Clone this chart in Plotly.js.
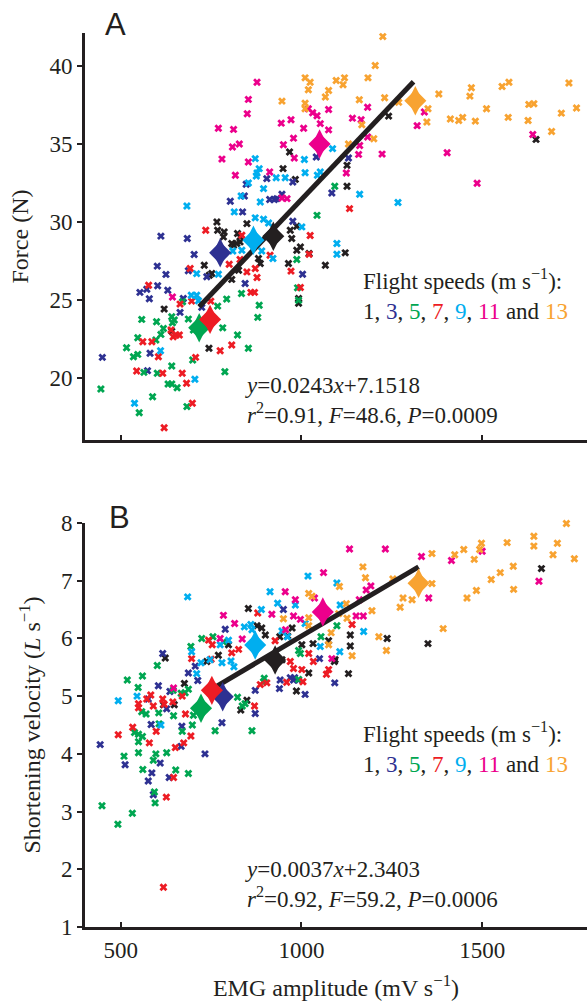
<!DOCTYPE html>
<html>
<head>
<meta charset="utf-8">
<script src="https://cdn.plot.ly/plotly-3.0.1.min.js"></script>
<style>html,body{margin:0;padding:0;background:#fff;}#chart{width:587px;height:1003px;}</style>
</head>
<body>
<div id="chart"></div>
<script>
// Flight speeds (m s-1) and their colours
const speeds = [1, 3, 5, 7, 9, 11, 13];
const speedColors = ['#231f20', '#2e3192', '#00a651', '#ed1c24', '#00aeef', '#ec008c', '#f8a331'];

// ---------- Panel A: Force vs EMG amplitude ----------
const forceEmg1 = [766,768,967,949,983,849,823,830,969,973,1241,1126,1126,987,997,987,1021,964,1066,1121,992,992,812,830,784,620,744,731,752,826,807,821,786,881,886,641,745,807,1649];
const force1    = [30.0,29.48,34.48,33.42,32.73,29.9,29.27,29.05,29.48,28.95,36.78,33.63,32.29,29.73,28.41,28.2,27.99,27.35,27.24,28.03,25.11,24.8,28.52,28.73,29.05,24.43,21.92,27.24,26.71,26.92,28.63,28.63,29.37,27.67,27.35,23.02,26.6,26.33,35.29];

const forceEmg3 = [611,684,803,837,847,904,912,925,932,946,976,976,1041,1084,1130,703,1003,601,625,553,572,579,630,673,664,687,738,724,449,581,574,844,602,842];
const force3    = [29.1,28.95,31.33,30.65,32.42,32.78,31.44,31.44,31.5,31.78,32.56,30.05,34.16,31.86,34.1,27.92,26.66,27.18,26.65,25.5,25.7,25.09,25.64,25.11,24.22,26.88,26.5,24.54,21.34,21.6,20.49,26.07,25.92,31.67];

const forceEmg5 = [445,516,535,547,547,558,564,551,588,599,601,597,611,618,641,648,643,641,631,641,656,683,699,687,671,768,782,793,788,823,834,853,879,883,987,989,992,1092,1043,701];
const force5    = [19.32,21.96,21.38,21.53,22.6,23.77,20.38,17.8,18.82,23.62,20.32,22.45,22.81,23.19,23.94,23.73,23.55,20.79,19.64,19.64,19.4,18.19,21.17,23.79,24.9,24.62,23.23,25.07,20.42,22.77,25.43,21.92,23.9,24.68,27.6,25.79,25.0,32.29,30.43,23.09];

const forceEmg7 = [735,835,1133,1024,1021,971,997,913,692,577,561,586,604,544,616,639,645,653,662,670,682,698,620,707,664,749,775,807,800,830,849,860,870,877,872,696];
const force7    = [29.48,29.16,30.86,29.14,27.94,26.86,25.81,27.88,27.03,25.96,22.34,22.34,21.38,20.47,20.32,23.09,22.66,22.77,22.77,20.32,19.68,18.4,16.84,21.34,24.75,24.94,21.76,22.13,27.3,27.6,26.81,25.5,25.5,26.45,27.03,24.94];

const forceEmg9 = [683,872,883,877,875,853,895,930,955,833,886,814,872,895,909,1008,1010,1044,1052,1086,1161,1001,1098,1098,1267,710,695,610,538,705,770,810,890,921,715,710,835];
const force9    = [31.03,34.06,33.42,33.14,32.95,32.5,32.14,32.84,32.84,31.67,31.28,30.65,30.27,30.18,29.94,34.0,33.16,33.0,33.2,34.7,31.78,29.69,28.63,27.94,31.25,25.32,25.32,21.76,18.4,19.94,26.66,28.15,28.15,27.67,24.96,26.7,28.2];

const forceEmg11 = [877,853,850,770,812,809,828,780,853,817,912,944,971,950,978,980,946,960,643,1019,1031,1043,1075,1006,1052,1075,1141,1165,1183,1161,1158,1183,1223,1124,1340,1320,1403,1486,1640];
const force11    = [38.95,37.85,36.93,36.0,35.93,34.8,35.0,34.03,33.84,33.0,33.2,36.33,36.55,34.95,35.37,34.1,31.54,31.5,25.2,37.25,37.0,36.8,37.2,36.0,36.3,35.9,36.65,36.55,37.35,34.9,34.33,35.44,34.35,33.14,37.04,36.17,34.44,32.48,35.6];

const forceEmg13 = [1225,1204,1010,1024,1019,1096,1119,1115,1075,1066,1184,1160,1230,1269,946,1010,1010,1167,1200,1130,1350,1347,1380,1412,1435,1446,1470,1466,1481,1512,1555,1574,1572,1629,1643,1627,1692,1719,1740,1761];
const force13    = [41.87,40.02,39.23,38.95,38.47,39.06,39.23,38.79,38.42,38.0,39.23,37.83,37.96,37.66,37.74,37.61,37.25,36.23,35.33,35.0,37.25,36.4,38.2,36.6,36.5,36.7,38.6,38.06,36.46,37.25,38.68,38.95,36.7,37.53,37.57,36.5,35.8,36.97,38.9,37.3];

// Means per speed (diamonds), order = speeds
const meanForceEmg = [922, 775, 717, 747, 867, 1050, 1315];
const meanForce    = [29.09, 28.03, 23.24, 23.77, 28.84, 35.0, 37.76];
const forceFit = {slope: 0.0243, intercept: 7.1518};
const forceFitRange = [717, 1310];

// ---------- Panel B: Shortening velocity vs EMG amplitude ----------
const velEmg1 = [1664,1350,1237,1135,1135,1130,1091,1032,974,1001,986,1020,853,1075,1093,962,890,900,946,877,798,770,738,676,618,940,849,832,623,648];
const vel1    = [7.21,5.91,6.0,6.06,5.87,5.39,5.6,5.91,6.18,5.89,5.09,5.4,6.52,5.96,5.63,6.04,6.18,6.06,5.63,6.22,5.89,5.71,5.6,5.22,4.85,6.03,4.93,4.76,5.66,4.85];

const velEmg3 = [1092,1010,950,978,992,1050,939,981,969,872,872,443,616,687,667,789,706,713,604,636,576,627,584,669,780,512,609,586,576,634,733,941,590];
const vel3    = [5.23,5.03,6.5,5.28,5.28,5.65,5.13,5.32,5.32,4.7,5.1,4.16,5.74,5.4,4.13,6.16,5.52,5.27,5.18,5.08,4.95,4.78,4.51,4.48,4.54,3.81,3.84,3.67,3.53,3.59,4.0,5.28,3.29];

const velEmg5 = [518,560,548,601,558,570,538,549,560,549,605,606,549,509,597,590,627,561,652,687,593,646,670,698,687,678,784,761,863,823,836,701,897,645,667,694,724,755,844,992,1054,1098,895,997,992,448,492,532,595];
const vel5    = [5.28,5.35,5.15,5.53,4.73,4.69,4.37,4.34,4.3,4.21,4.71,4.52,4.02,3.96,4.0,3.89,4.02,3.73,3.72,3.66,3.34,4.66,4.39,4.5,5.12,5.06,5.94,4.4,4.4,4.98,4.83,4.67,5.31,5.1,5.05,5.86,6.0,6.03,4.87,5.79,6.03,6.22,5.25,5.74,5.29,3.1,2.78,2.97,3.15];

const velEmg7 = [618,626,646,651,674,579,493,533,549,549,583,590,616,620,598,670,679,694,750,753,807,879,904,870,572,644,696,743,826,959,927,1075,1069,969,978,1001,1033,886,1140,1020,1004];
const vel7    = [1.69,3.25,3.59,4.11,4.19,4.19,4.33,4.46,4.87,4.8,5.02,4.83,4.95,4.86,4.39,5.0,4.69,4.31,5.64,5.89,5.75,6.44,5.23,4.83,4.95,4.9,5.65,5.97,5.81,5.24,5.96,5.46,5.38,5.6,5.48,5.46,5.6,5.2,6.24,5.74,5.25];

const velEmg9 = [493,685,696,722,710,747,775,798,842,860,863,889,913,934,983,805,813,611,545,780,1018,1098,1107,1172,1106,1052,946,961,1010];
const vel9    = [4.92,6.72,5.77,5.58,5.39,5.63,5.89,5.97,6.2,6.24,6.15,6.5,6.81,6.61,6.58,5.61,5.51,4.5,5.0,5.58,7.08,6.96,6.58,6.12,5.77,5.86,6.13,6.03,6.26];

const velEmg11 = [1133,1232,1332,1415,1500,1657,1352,1061,1192,1179,1160,1151,1171,955,983,978,956,1036,1084,918,997,784,815,836,775,646];
const vel11    = [7.55,7.55,7.42,7.35,7.51,6.99,6.7,7.14,6.91,6.84,6.67,6.39,6.39,6.81,6.67,6.39,6.15,6.7,5.65,6.42,6.33,6.4,6.26,5.99,6.0,5.14];

const velEmg13 = [1733,1643,1643,1708,1696,1755,1569,1586,1587,1498,1493,1478,1449,1424,1361,1550,1525,1484,1458,1361,1281,1306,1273,1253,1392,1214,1235,1170,1177,1105,1020,1029,1195,1126,1075,1140,1082,1020,1020,950,1124,1103];
const vel13    = [7.99,7.77,7.6,7.65,7.45,7.38,7.66,7.25,6.85,7.65,7.54,7.37,7.54,7.45,7.47,7.14,7.02,6.83,6.7,6.95,6.7,6.67,6.54,7.03,6.17,6.03,5.79,7.24,7.05,6.9,6.78,6.73,6.48,6.35,5.89,5.7,6.1,6.36,6.22,6.34,6.6,6.43];

const meanVelEmg = [927, 782, 722, 752, 872, 1059, 1324];
const meanVel    = [5.625, 4.99, 4.79, 5.1, 5.885, 6.46, 6.955];
const velFit = {slope: 0.0037, intercept: 2.3403};
const velFitRange = [752, 1324];

// Axis ticks
const xTicks = [500, 1000, 1500];
const forceTicks = [20, 25, 30, 35, 40];
const velTicks = [1, 2, 3, 4, 5, 6, 7, 8];

// ---------- build traces ----------
const forceX = [forceEmg1, forceEmg3, forceEmg5, forceEmg7, forceEmg9, forceEmg11, forceEmg13];
const forceY = [force1, force3, force5, force7, force9, force11, force13];
const velX = [velEmg1, velEmg3, velEmg5, velEmg7, velEmg9, velEmg11, velEmg13];
const velY = [vel1, vel3, vel5, vel7, vel9, vel11, vel13];

const ink = '#231f20';
const traces = [];
function addPanel(xs, ys, means_x, means_y, fit, range, xa, ya) {
  speeds.forEach((s, i) => {
    traces.push({
      type: 'scatter', mode: 'markers', x: xs[i], y: ys[i], xaxis: xa, yaxis: ya,
      marker: {symbol: 'x', size: 7, color: speedColors[i], line: {width: 0}},
      hoverinfo: 'skip', showlegend: false, cliponaxis: false
    });
  });
  traces.push({
    type: 'scatter', mode: 'lines', x: range,
    y: range.map(v => fit.slope * v + fit.intercept),
    xaxis: xa, yaxis: ya, line: {color: ink, width: 5}, hoverinfo: 'skip', showlegend: false
  });
  // mean diamonds: a diamond and a tall diamond overlaid give the taller rhombus of the original
  speeds.forEach((s, i) => {
    ['diamond', 'diamond-tall'].forEach((sym, k) => {
      traces.push({
        type: 'scatter', mode: 'markers', x: [means_x[i]], y: [means_y[i]], xaxis: xa, yaxis: ya,
        marker: {symbol: sym, size: k === 0 ? 17 : 21, color: speedColors[i], line: {width: 0}},
        hoverinfo: 'skip', showlegend: false
      });
    });
  });
}
addPanel(forceX, forceY, meanForceEmg, meanForce, forceFit, forceFitRange, 'x', 'y');
addPanel(velX, velY, meanVelEmg, meanVel, velFit, velFitRange, 'x2', 'y2');

const serif = 'Liberation Serif';
const sans = 'Liberation Sans';
const baseAxis = {
  showline: true, linecolor: ink, linewidth: 3, showgrid: false, zeroline: false,
  tickcolor: ink, tickwidth: 2, ticklen: 5, tickfont: {family: serif, size: 23, color: ink}
};
const speedLine = 'Flight speeds (m s<sup>−1</sup>):<br>' +
  speeds.map((s, i) => '<span style="color:' + speedColors[i] + '">' + s + '</span>')
    .slice(0, 6).join(', ') + ' and <span style="color:' + speedColors[6] + '">13</span>';

const layout = {
  width: 587, height: 1003,
  margin: {l: 85, r: 0, t: 33, b: 76},
  paper_bgcolor: '#fff', plot_bgcolor: '#fff',
  font: {family: serif, size: 23, color: ink},
  showlegend: false,
  xaxis: Object.assign({}, baseAxis, {anchor: 'y', domain: [0, 1], range: [401, 1790], tickvals: xTicks, ticks: 'inside', showticklabels: false}),
  yaxis: Object.assign({}, baseAxis, {anchor: 'x', domain: [0.5447, 1], range: [16.05, 42.1], tickvals: forceTicks, ticks: 'outside',
    title: {text: 'Force (N)', font: {family: serif, size: 24, color: ink}, standoff: 14}}),
  xaxis2: Object.assign({}, baseAxis, {anchor: 'y2', domain: [0, 1], range: [401, 1790], tickvals: xTicks, ticks: 'inside',
    title: {text: 'EMG amplitude (mV s<sup>−1</sup>)', font: {family: serif, size: 24, color: ink}, standoff: 18}}),
  yaxis2: Object.assign({}, baseAxis, {anchor: 'x2', domain: [0, 0.4519], range: [1, 8], tickvals: velTicks, ticks: 'outside',
    title: {text: 'Shortening velocity (<i>L</i> s<sup>−1</sup>)', font: {family: serif, size: 24, color: ink}, standoff: 14}}),
  annotations: [
    {xref: 'paper', yref: 'paper', x: 0.06, y: 1.010, text: 'A', showarrow: false, xanchor: 'center', yanchor: 'middle',
     font: {family: sans, size: 31, color: ink}},
    {xref: 'paper', yref: 'paper', x: 0.0687, y: 0.4575, text: 'B', showarrow: false, xanchor: 'center', yanchor: 'middle',
     font: {family: sans, size: 31, color: ink}},
    {xref: 'paper', yref: 'paper', x: 0.5498, y: 0.708, text: speedLine, showarrow: false, align: 'left', xanchor: 'left', yanchor: 'middle',
     font: {family: serif, size: 23, color: ink}},
    {xref: 'paper', yref: 'paper', x: 0.5498, y: 0.2013, text: speedLine, showarrow: false, align: 'left', xanchor: 'left', yanchor: 'middle',
     font: {family: serif, size: 23, color: ink}},
    {xref: 'paper', yref: 'paper', x: 0.3147, y: 0.5884, showarrow: false, align: 'left', xanchor: 'left', yanchor: 'middle',
     text: '<i>y</i>=' + forceFit.slope + '<i>x</i>+' + forceFit.intercept + '<br><i>r</i><sup>2</sup>=0.91, <i>F</i>=48.6, <i>P</i>=0.0009',
     font: {family: serif, size: 23, color: ink}},
    {xref: 'paper', yref: 'paper', x: 0.3147, y: 0.0475, showarrow: false, align: 'left', xanchor: 'left', yanchor: 'middle',
     text: '<i>y</i>=' + velFit.slope + '<i>x</i>+' + velFit.intercept + '<br><i>r</i><sup>2</sup>=0.92, <i>F</i>=59.2, <i>P</i>=0.0006',
     font: {family: serif, size: 23, color: ink}}
  ]
};

Plotly.newPlot('chart', traces, layout, {displayModeBar: false, staticPlot: true});
</script>
</body>
</html>
